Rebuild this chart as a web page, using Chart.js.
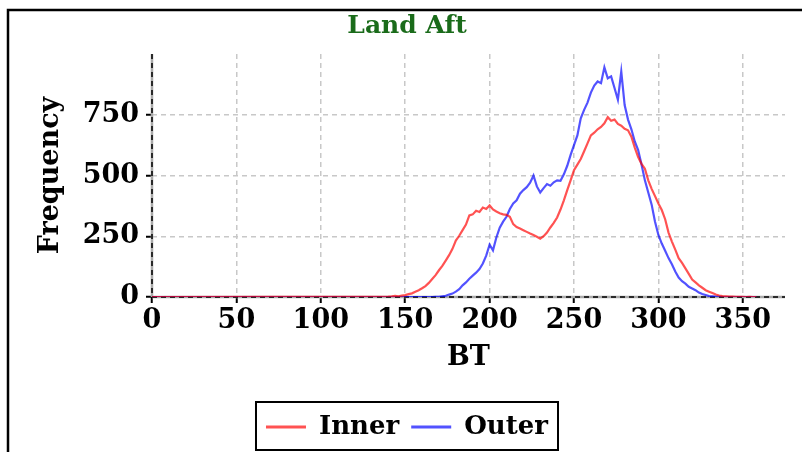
<!DOCTYPE html>
<html>
<head>
<meta charset="utf-8">
<script src="https://cdn.jsdelivr.net/npm/chart.js@4/dist/chart.umd.min.js"></script>
<style>
  html, body { margin: 0; padding: 0; background: #fff; }
  #wrap { position: absolute; left: 0; top: 0; width: 802px; height: 452px; }
</style>
</head>
<body>
<div id="wrap"><canvas id="c" width="802" height="452"></canvas></div>
<script>
const chartTitle = 'Land Aft';
const xTitle = 'BT';
const yTitle = 'Frequency';
const seriesNames = ['Inner', 'Outer'];

// BT bin centres (0 = start of the flat zero run)
const btBins = [0,
  140,142,144,146,148,150,152,154,156,158,
  160,162,164,166,168,170,172,174,176,178,
  180,182,184,186,188,190,192,194,196,198,
  200,202,204,206,208,210,212,214,216,218,
  220,222,224,226,228,230,232,234,236,238,
  240,242,244,246,248,250,252,254,256,258,
  260,262,264,266,268,270,272,274,276,278,
  280,282,284,286,288,290,292,294,296,298,
  300,302,304,306,308,310,312,314,316,318,
  320,322,324,326,328,330,332,334,336,338,
  340,342,344,346,348,350,352,354,356,358];

const innerFreq = [0,
  2,3,5,3,6,8,12,15,22,28,
  36,45,58,74,90,110,128,150,172,198,
  232,252,275,298,336,340,355,350,368,362,
  377,360,352,345,340,338,330,300,288,282,
  275,268,261,255,248,240,250,265,286,305,
  327,360,398,440,480,522,545,568,600,632,
  665,676,690,700,715,740,725,730,712,705,
  692,686,660,615,576,548,528,480,445,415,
  385,358,320,265,228,195,160,140,118,95,
  72,60,48,38,28,22,16,10,6,4,
  3,2,2,1,1,1,0,1,0,0];

const outerFreq = [0,
  0,0,0,0,0,0,0,0,0,0,
  0,0,0,0,1,1,3,5,10,14,
  22,32,48,60,75,88,100,115,138,170,
  215,192,245,285,310,330,362,385,398,425,
  440,452,470,500,455,430,448,465,458,472,
  480,478,505,540,585,625,665,735,770,800,
  841,870,887,880,945,900,908,860,812,928,
  790,730,690,640,605,545,480,430,380,310,
  255,220,190,160,135,105,80,65,55,42,
  35,28,18,12,8,4,3,2,1,0,
  0,0,0,0,0,0,0,0,0,0];

const xTickValues = [0,50,100,150,200,250,300,350];
const yTickValues = [0,250,500,750];

const FONT = "'DejaVu Serif', 'Liberation Serif', serif";

const framePlugin = {
  id: 'frame',
  afterDraw(chart) {
    const ctx = chart.ctx;
    ctx.save();
    ctx.strokeStyle = '#000';
    ctx.lineWidth = 2.5;
    ctx.beginPath();
    ctx.moveTo(8, 460);
    ctx.lineTo(8, 10);
    ctx.lineTo(810, 10);
    ctx.stroke();
    const boxes = chart.legend && chart.legend.legendHitBoxes;
    if (boxes && boxes.length) {
      let l = Infinity, r = -Infinity, t = Infinity, b = -Infinity;
      boxes.forEach(h => { l = Math.min(l, h.left); r = Math.max(r, h.left + h.width); t = Math.min(t, h.top); b = Math.max(b, h.top + h.height); });
      ctx.lineWidth = 2;
      ctx.strokeRect(l - 10, t - 12, (r - l) + 20, (b - t) + 22);
    }
    ctx.restore();
  }
};

const axisLinePlugin = {
  id: 'axisLines',
  beforeDatasetsDraw(chart) {
    const ctx = chart.ctx;
    const a = chart.chartArea;
    const x0 = chart.scales.x.getPixelForValue(0);
    const y0 = chart.scales.y.getPixelForValue(0);
    ctx.save();
    ctx.lineWidth = 2.5;
    ctx.strokeStyle = '#aaa';
    ctx.beginPath();
    ctx.moveTo(x0, a.top); ctx.lineTo(x0, y0);
    ctx.moveTo(x0, y0); ctx.lineTo(a.right, y0);
    ctx.stroke();
    ctx.strokeStyle = '#000';
    ctx.lineWidth = 1.5;
    ctx.setLineDash([5, 4]);
    ctx.beginPath();
    ctx.moveTo(x0, a.top); ctx.lineTo(x0, y0);
    ctx.moveTo(x0, y0); ctx.lineTo(a.right, y0);
    ctx.stroke();
    ctx.restore();
  }
};

const colors = ['rgba(255,0,0,0.68)', 'rgba(0,0,255,0.68)'];
const seriesData = [innerFreq, outerFreq];

new Chart(document.getElementById('c'), {
  type: 'line',
  data: {
    datasets: seriesNames.map((name, i) => ({
      label: name,
      data: btBins.map((b, j) => ({ x: b, y: seriesData[i][j] })),
      borderColor: colors[i],
      backgroundColor: colors[i],
      borderWidth: 2.2,
      pointRadius: 0,
      fill: false,
      tension: 0
    }))
  },
  options: {
    responsive: false,
    animation: false,
    devicePixelRatio: 1,
    layout: { padding: { left: 29, right: 17, top: 8, bottom: 2 } },
    plugins: {
      title: {
        display: true,
        text: chartTitle,
        color: '#1a6b1a',
        font: { family: FONT, size: 25, weight: 'bold' },
        padding: { top: 3, bottom: 13 }
      },
      legend: {
        position: 'bottom',
        labels: {
          usePointStyle: true,
          pointStyle: 'line',
          pointStyleWidth: 40,
          boxWidth: 40,
          color: '#000',
          font: { family: FONT, size: 26, weight: 'bold' },
          padding: 12,
          generateLabels(chart) {
            const items = Chart.defaults.plugins.legend.labels.generateLabels(chart);
            items.forEach(it => { it.lineWidth = 3; });
            return items;
          }
        }
      },
      tooltip: { enabled: false }
    },
    scales: {
      x: {
        type: 'linear',
        min: 0,
        max: 375,
        afterBuildTicks: s => { s.ticks = xTickValues.map(v => ({ value: v })); },
        afterFit: s => { s.height = 105; },
        ticks: { color: '#000', font: { family: FONT, size: 27, weight: 'bold' }, padding: 2, maxRotation: 0 },
        grid: { color: '#c8c8c8', lineWidth: 1.5, tickColor: '#000', tickLength: 6, tickWidth: 2 },
        border: { display: false, dash: [5, 4] },
        title: { display: true, text: xTitle, color: '#000', font: { family: FONT, size: 27, weight: 'bold' }, padding: { top: 4, bottom: 28 } }
      },
      y: {
        min: 0,
        max: 1000,
        afterBuildTicks: s => { s.ticks = yTickValues.map(v => ({ value: v })); },
        afterFit: s => { s.width = 123; },
        ticks: { color: '#000', font: { family: FONT, size: 27, weight: 'bold' }, padding: 7 },
        grid: { color: '#c8c8c8', lineWidth: 1.5, tickColor: '#000', tickLength: 6, tickWidth: 2 },
        border: { display: false, dash: [5, 4] },
        title: { display: true, text: yTitle, color: '#000', font: { family: FONT, size: 27, weight: 'bold' }, padding: { top: 6, bottom: 8 } }
      }
    }
  },
  plugins: [framePlugin, axisLinePlugin]
});
</script>
</body>
</html>
